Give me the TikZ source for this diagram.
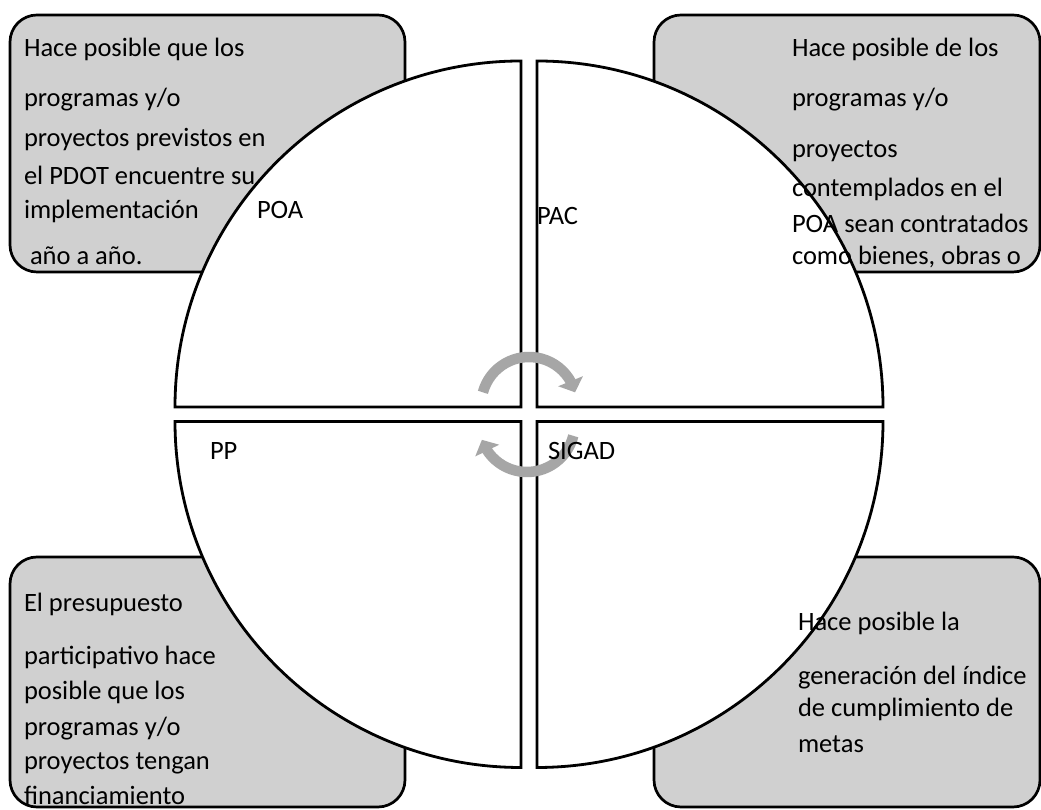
\documentclass[tikz,border=0pt]{standalone}
\usepackage{fontspec}
\setmainfont{Carlito}
\usetikzlibrary{arrows.meta,bending}
\definecolor{boxgray}{HTML}{D0D0D0}
\definecolor{arrowgray}{HTML}{A6A6A6}
\tikzset{
  infobox/.style={draw=black, line width=2.7pt, fill=boxgray, rounded corners=27pt},
  quad/.style={draw=black, fill=white, line width=2.8pt, line join=miter},
  txt/.style={anchor=base west, inner sep=0pt, outer sep=0pt, font=\fontsize{26.5}{31}\selectfont},
  cyc/.style={draw=arrowgray, line width=10.5pt, -{Triangle[length=12pt,width=26pt,flex]}}
}
\begin{document}
\begin{tikzpicture}[x=1pt,y=1pt]
\useasboundingbox (0,0) rectangle (1041,810);
% boxes
\draw[infobox] (10,538) rectangle (405,795);
\draw[infobox] (654,538) rectangle (1040,795);
\draw[infobox] (10,3) rectangle (405,253);
\draw[infobox] (654,3) rectangle (1040,253);
% circle quadrants
\draw[quad] (521,403) -- (175,403) arc[start angle=180, end angle=90, radius=346] -- cycle;
\draw[quad] (537,403) -- (537,749) arc[start angle=90, end angle=0, radius=346] -- cycle;
\draw[quad] (521,388.5) -- (175,388.5) arc[start angle=180, end angle=270, radius=346] -- cycle;
\draw[quad] (537,388.5) -- (883,388.5) arc[start angle=0, end angle=-90, radius=346] -- cycle;
% cycle arrows
\draw[cyc] ([shift={(165:47.7)}]529,405.3) arc[start angle=165, end angle=15, radius=47.7];
\draw[cyc] ([shift={(-14:47.7)}]527,385.7) arc[start angle=-14, end angle=-161, radius=47.7];
% top-left text
\node[txt] (tl1) at (24,753) {Hace posible que los};
\node[txt] (tl2) at (24,703) {programas y/o};
\node[txt] (tl3) at (24,663) {proyectos previstos en};
\node[txt] (tl4) at (24,625) {el PDOT encuentre su};
\node[txt] (tl5) at (24,591) {implementación};
\node[txt] (tl6) at (30,545) {año a año.};
% top-right text
\node[txt] (tr1) at (792,753) {Hace posible de los};
\node[txt] (tr2) at (792,703) {programas y/o};
\node[txt] (tr3) at (792,652) {proyectos};
\node[txt] (tr4) at (792,613) {contemplados en el};
\node[txt] (tr5) at (792,577) {POA sean contratados};
\node[txt] (tr6) at (792,545) {como bienes, obras o};
% bottom-left text
\node[txt] (bl1) at (24,198) {El presupuesto};
\node[txt] (bl2) at (24,145) {participativo hace};
\node[txt] (bl3) at (24,110) {posible que los};
\node[txt] (bl4) at (24,74) {programas y/o};
\node[txt] (bl5) at (24,40) {proyectos tengan};
\node[txt] (bl6) at (24,5) {financiamiento};
% bottom-right text
\node[txt] (br1) at (798,179) {Hace posible la};
\node[txt] (br2) at (798,125) {generación del índice};
\node[txt] (br3) at (798,93) {de cumplimiento de};
\node[txt] (br4) at (798,57) {metas};
% quadrant labels
\node[txt] (poa) at (257,591) {POA};
\node[txt] (pac) at (537,585) {PAC};
\node[txt] (pp) at (210,350) {PP};
\node[txt] (sigad) at (548,350) {SIGAD};
\end{tikzpicture}
\end{document}
